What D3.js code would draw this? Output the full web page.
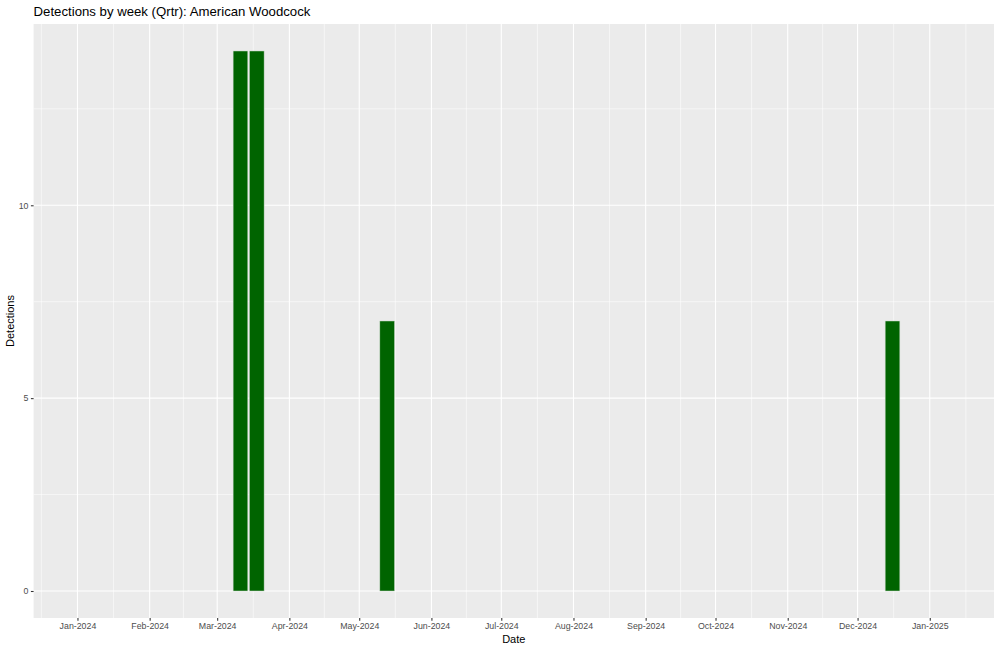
<!DOCTYPE html>
<html>
<head>
<meta charset="utf-8">
<script src="https://cdn.jsdelivr.net/npm/d3@7"></script>
<style>
  html, body { margin: 0; padding: 0; background: #ffffff; }
  svg { display: block; }
  text { font-family: "Liberation Sans", Arial, Helvetica, sans-serif; }
</style>
</head>
<body>
<svg id="chart" width="1000" height="651"></svg>
<script>
// ---- data ----
const weekStarts = ["2024-03-11", "2024-03-18", "2024-05-13", "2024-12-16"];
const detections = [14, 14, 7, 7];
const xDomainDates = ["2023-12-13T04:00", "2025-01-28T14:00"];
const xTickDates = ["2024-01-01","2024-02-01","2024-03-01","2024-04-01","2024-05-01","2024-06-01",
                    "2024-07-01","2024-08-01","2024-09-01","2024-10-01","2024-11-01","2024-12-01","2025-01-01"];
const yTicks = [0, 5, 10];
const yMinorTicks = [2.5, 7.5, 12.5];
const yDomain = [-0.7, 14.7];
const titleText = "Detections by week (Qrtr): American Woodcock";
const xTitle = "Date";
const yTitle = "Detections";

// ---- layout ----
const panel = { left: 33.6, right: 994, top: 24, bottom: 618 };
const svg = d3.select("#chart");

const parseDay = d3.utcParse("%Y-%m-%d");
const parseDT = d3.utcParse("%Y-%m-%dT%H:%M");
const fmt = d3.utcFormat("%b-%Y");

const x = d3.scaleUtc()
  .domain(xDomainDates.map(parseDT))
  .range([panel.left, panel.right]);
const y = d3.scaleLinear().domain(yDomain).range([panel.bottom, panel.top]);

const ticks = xTickDates.map(parseDay);
// minor breaks: midpoints between majors, extended one step on either end
const minor = [];
for (let i = 0; i < ticks.length - 1; i++) {
  minor.push(new Date((+ticks[i] + +ticks[i + 1]) / 2));
}
minor.unshift(new Date(+ticks[0] - (+ticks[1] - +ticks[0]) / 2));
minor.push(new Date(+ticks[ticks.length - 1] + (+ticks[ticks.length - 1] - +ticks[ticks.length - 2]) / 2));

// panel background
svg.append("rect")
  .attr("x", panel.left).attr("y", panel.top)
  .attr("width", panel.right - panel.left).attr("height", panel.bottom - panel.top)
  .attr("fill", "#EBEBEB");

const grid = svg.append("g");
// minor grid
grid.selectAll(".xminor").data(minor.filter(d => x(d) > panel.left && x(d) < panel.right)).join("line")
  .attr("x1", d => x(d)).attr("x2", d => x(d))
  .attr("y1", panel.top).attr("y2", panel.bottom)
  .attr("stroke", "#fff").attr("stroke-width", 0.55);
grid.selectAll(".yminor").data(yMinorTicks).join("line")
  .attr("x1", panel.left).attr("x2", panel.right)
  .attr("y1", d => y(d)).attr("y2", d => y(d))
  .attr("stroke", "#fff").attr("stroke-width", 0.55);
// major grid
grid.selectAll(".xmajor").data(ticks).join("line")
  .attr("x1", d => x(d)).attr("x2", d => x(d))
  .attr("y1", panel.top).attr("y2", panel.bottom)
  .attr("stroke", "#fff").attr("stroke-width", 1.1);
grid.selectAll(".ymajor").data(yTicks).join("line")
  .attr("x1", panel.left).attr("x2", panel.right)
  .attr("y1", d => y(d)).attr("y2", d => y(d))
  .attr("stroke", "#fff").attr("stroke-width", 1.1);

// bars (week bins, width 0.9 * 7 days, centred on the week start)
const halfW = 0.9 * 7 * 86400000 / 2;
const bars = weekStarts.map((d, i) => ({ date: parseDay(d), value: detections[i] }));
svg.append("g").selectAll("rect").data(bars).join("rect")
  .attr("x", d => x(new Date(+d.date - halfW)))
  .attr("width", d => x(new Date(+d.date + halfW)) - x(new Date(+d.date - halfW)))
  .attr("y", d => y(d.value))
  .attr("height", d => y(0) - y(d.value))
  .attr("fill", "#006400")
  .attr("stroke", "#c8d8c8")
  .attr("stroke-width", 0.5);

// x axis
const xAxis = d3.axisBottom(x).tickValues(ticks).tickFormat(fmt).tickSize(2.7).tickPadding(2.4);
const gx = svg.append("g").attr("transform", `translate(0,${panel.bottom})`).call(xAxis);
gx.select(".domain").remove();
gx.selectAll(".tick line").attr("stroke", "#333333").attr("stroke-width", 1.07);
gx.selectAll(".tick text").attr("fill", "#4D4D4D").style("font-size", "8.8px");

// y axis
const yAxis = d3.axisLeft(y).tickValues(yTicks).tickSize(2.7).tickPadding(2.4);
const gy = svg.append("g").attr("transform", `translate(${panel.left},0)`).call(yAxis);
gy.select(".domain").remove();
gy.selectAll(".tick line").attr("stroke", "#333333").attr("stroke-width", 1.07);
gy.selectAll(".tick text").attr("fill", "#4D4D4D").style("font-size", "8.8px");

// titles
svg.append("text")
  .attr("x", panel.left).attr("y", 15.5)
  .attr("fill", "#000").style("font-size", "13.2px")
  .text(titleText);
svg.append("text")
  .attr("x", (panel.left + panel.right) / 2).attr("y", 642.5)
  .attr("text-anchor", "middle").attr("fill", "#000").style("font-size", "11px")
  .text(xTitle);
svg.append("text")
  .attr("transform", `translate(14,${(panel.top + panel.bottom) / 2}) rotate(-90)`)
  .attr("text-anchor", "middle").attr("fill", "#000").style("font-size", "11px")
  .text(yTitle);
</script>
</body>
</html>
